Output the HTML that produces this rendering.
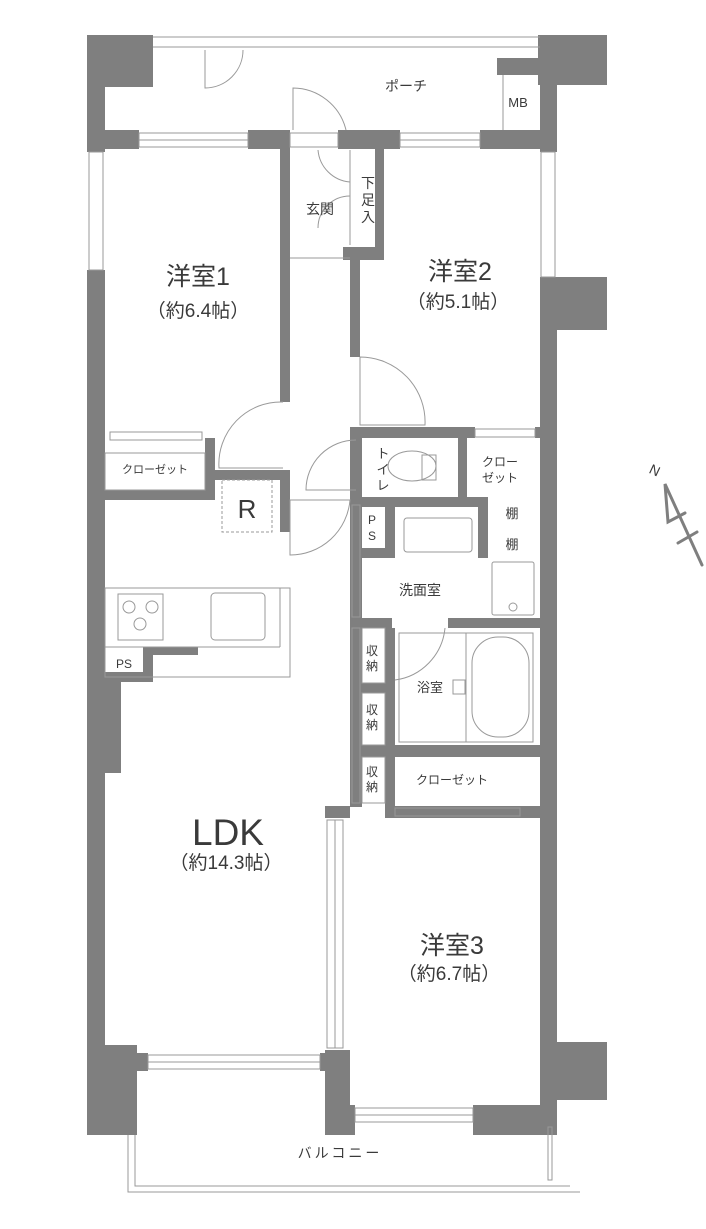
<!DOCTYPE html>
<html><head><meta charset="utf-8"><style>
html,body{margin:0;padding:0;background:#fff}
svg{display:block}
text{font-family:"Liberation Sans","Noto Sans CJK JP",sans-serif;fill:#3a3a3a}
</style></head><body>
<svg width="706" height="1229" viewBox="0 0 706 1229" xmlns="http://www.w3.org/2000/svg">
<g fill="#7f7f7f">
<rect x="87" y="35" width="66" height="52"/>
<rect x="87" y="35" width="18" height="117"/>
<rect x="87" y="270" width="18" height="785"/>
<rect x="87" y="682" width="34" height="91"/>
<rect x="87" y="130" width="52" height="19"/>
<rect x="248" y="130" width="42" height="19"/>
<rect x="338" y="130" width="62" height="19"/>
<rect x="480" y="130" width="77" height="19"/>
<rect x="538" y="35" width="69" height="50"/>
<rect x="497" y="58" width="45" height="17"/>
<rect x="540" y="35" width="17" height="117"/>
<rect x="540" y="277" width="67" height="53"/>
<rect x="540" y="277" width="17" height="858"/>
<rect x="540" y="1042" width="67" height="58"/>
<rect x="280" y="140" width="10" height="262"/>
<rect x="280" y="470" width="10" height="62"/>
<rect x="375" y="140" width="9" height="120"/>
<rect x="343" y="247" width="41" height="13"/>
<rect x="350" y="247" width="10" height="110"/>
<rect x="87" y="490" width="128" height="10"/>
<rect x="205" y="438" width="10" height="62"/>
<rect x="205" y="470" width="83" height="10"/>
<rect x="350" y="427" width="125" height="11"/>
<rect x="535" y="427" width="5" height="11"/>
<rect x="350" y="427" width="12" height="380"/>
<rect x="458" y="438" width="9" height="60"/>
<rect x="350" y="497" width="138" height="10"/>
<rect x="385" y="507" width="10" height="51"/>
<rect x="478" y="497" width="10" height="61"/>
<rect x="362" y="548" width="33" height="10"/>
<rect x="350" y="618" width="42" height="10"/>
<rect x="448" y="618" width="92" height="10"/>
<rect x="385" y="628" width="10" height="180"/>
<rect x="362" y="683" width="25" height="10"/>
<rect x="362" y="745" width="178" height="12"/>
<rect x="385" y="806" width="155" height="12"/>
<rect x="325" y="806" width="25" height="12"/>
<rect x="143" y="647" width="55" height="8"/>
<rect x="143" y="647" width="10" height="35"/>
<rect x="105" y="672" width="48" height="10"/>
<rect x="87" y="1045" width="50" height="90"/>
<rect x="87" y="1053" width="61" height="18"/>
<rect x="320" y="1053" width="30" height="18"/>
<rect x="325" y="1050" width="25" height="85"/>
<rect x="473" y="1105" width="84" height="30"/>
<rect x="340" y="1105" width="15" height="30"/>
</g>
<g fill="none" stroke="#999" stroke-width="1">
<line x1="153" y1="37" x2="540" y2="37"/>
<line x1="153" y1="47" x2="540" y2="47"/>
<line x1="503" y1="75" x2="503" y2="130"/>
<rect x="139" y="133" width="109" height="14"/>
<line x1="139" y1="140" x2="248" y2="140"/>
<rect x="290" y="133" width="48" height="14"/>
<rect x="400" y="133" width="80" height="14"/>
<line x1="400" y1="140" x2="480" y2="140"/>
<rect x="89" y="152" width="14" height="118"/>
<rect x="541" y="152" width="14" height="125"/>
<rect x="148" y="1055" width="172" height="14"/>
<line x1="148" y1="1062" x2="320" y2="1062"/>
<rect x="355" y="1108" width="118" height="14"/>
<line x1="355" y1="1115" x2="473" y2="1115"/>
<rect x="395" y="808" width="125" height="8"/>
<rect x="110" y="432" width="92" height="8"/>
<rect x="475" y="429" width="60" height="8"/>
<path d="M205 50 L205 88 A38 38 0 0 0 243 50"/>
<path d="M346 130 A55 55 0 0 0 293 88 L293 130"/>
<path d="M283 402 A62 62 0 0 0 219 468 L283 468"/>
<path d="M360 357 L360 425 L425 425 A65 65 0 0 0 360 357"/>
<path d="M356 440 A50 50 0 0 0 306 490 L356 490"/>
<path d="M290 500 L290 555 A60 60 0 0 0 350 500 Z"/>
<path d="M445 628 A58 58 0 0 1 395 680"/>
<path d="M318 150 A35 35 0 0 0 350 182 M350 196 A32 32 0 0 0 318 228"/>
<line x1="350" y1="150" x2="350" y2="245"/>
<line x1="290" y1="258" x2="350" y2="258"/>
<rect x="327" y="820" width="16" height="228"/>
<line x1="335" y1="820" x2="335" y2="1048"/>
<rect x="352" y="628" width="8" height="175"/>
<rect x="352" y="505" width="8" height="112"/>
<rect x="222" y="480" width="50" height="52" stroke-dasharray="3,2"/>
<rect x="105" y="588" width="185" height="89"/>
<line x1="105" y1="647" x2="280" y2="647"/>
<line x1="280" y1="588" x2="280" y2="647"/>
<rect x="118" y="594" width="45" height="46"/>
<circle cx="129" cy="607" r="6"/><circle cx="152" cy="607" r="6"/><circle cx="140" cy="624" r="6"/>
<rect x="211" y="593" width="54" height="47" rx="4"/>
<rect x="404" y="518" width="68" height="34" rx="3"/>
<rect x="492" y="562" width="42" height="53" rx="2"/>
<circle cx="513" cy="607" r="4"/>
<rect x="399" y="633" width="134" height="109"/>
<line x1="466" y1="633" x2="466" y2="742"/>
<rect x="472" y="637" width="57" height="100" rx="26"/>
<rect x="453" y="680" width="12" height="14"/>
<ellipse cx="412" cy="466" rx="24" ry="15"/>
<rect x="422" y="455" width="14" height="25"/>
<rect x="105" y="453" width="100" height="37"/>
<rect x="362" y="628" width="23" height="55"/>
<rect x="362" y="693" width="23" height="52"/>
<rect x="362" y="757" width="23" height="46"/>
<polyline points="128,1135 128,1192 580,1192"/>
<polyline points="135,1135 135,1186 570,1186"/>
<rect x="548" y="1127" width="4" height="53"/>
</g>
<g stroke="#7f7f7f" stroke-width="3" fill="none" stroke-linecap="round">
<polyline points="702,565 665,484 668,522 685,513"/>
<line x1="678" y1="543" x2="697" y2="532"/>
</g>
<text x="650" y="476" font-size="14" transform="rotate(25 657 470)">N</text>
<text x="406" y="91" font-size="14" text-anchor="middle">ポーチ</text>
<text x="518" y="107" font-size="13" text-anchor="middle">MB</text>
<text x="320" y="214" font-size="14" text-anchor="middle">玄関</text>
<text x="368" y="188" font-size="14" text-anchor="middle">下</text>
<text x="368" y="205" font-size="14" text-anchor="middle">足</text>
<text x="368" y="222" font-size="14" text-anchor="middle">入</text>
<text x="198" y="285" font-size="25" text-anchor="middle">洋室1</text>
<text x="198" y="317" font-size="19" text-anchor="middle">（約6.4帖）</text>
<text x="460" y="280" font-size="25" text-anchor="middle">洋室2</text>
<text x="458" y="308" font-size="19" text-anchor="middle">（約5.1帖）</text>
<text x="155" y="473" font-size="11" text-anchor="middle">クローゼット</text>
<text x="247" y="518" font-size="26" text-anchor="middle" fill="#666">R</text>
<text x="383" y="458" font-size="13" text-anchor="middle">ト</text>
<text x="383" y="474" font-size="13" text-anchor="middle">イ</text>
<text x="383" y="490" font-size="13" text-anchor="middle">レ</text>
<text x="500" y="466" font-size="12" text-anchor="middle">クロー</text>
<text x="500" y="482" font-size="12" text-anchor="middle">ゼット</text>
<text x="372" y="524" font-size="12" text-anchor="middle">P</text>
<text x="372" y="540" font-size="12" text-anchor="middle">S</text>
<text x="512" y="518" font-size="13" text-anchor="middle">棚</text>
<text x="512" y="549" font-size="13" text-anchor="middle">棚</text>
<text x="420" y="595" font-size="14" text-anchor="middle">洗面室</text>
<text x="124" y="668" font-size="12" text-anchor="middle">PS</text>
<g font-size="12">
<text x="372" y="655" text-anchor="middle">収</text><text x="372" y="670" text-anchor="middle">納</text>
<text x="372" y="714" text-anchor="middle">収</text><text x="372" y="729" text-anchor="middle">納</text>
<text x="372" y="776" text-anchor="middle">収</text><text x="372" y="791" text-anchor="middle">納</text>
</g>
<text x="430" y="692" font-size="13" text-anchor="middle">浴室</text>
<text x="452" y="784" font-size="12" text-anchor="middle">クローゼット</text>
<text x="228" y="845" font-size="37" text-anchor="middle">LDK</text>
<text x="226" y="869" font-size="19" text-anchor="middle">（約14.3帖）</text>
<text x="452" y="954" font-size="25" text-anchor="middle">洋室3</text>
<text x="449" y="980" font-size="19" text-anchor="middle">（約6.7帖）</text>
<text x="340" y="1158" font-size="14" text-anchor="middle" letter-spacing="3">バルコニー</text>
</svg>
</body></html>
